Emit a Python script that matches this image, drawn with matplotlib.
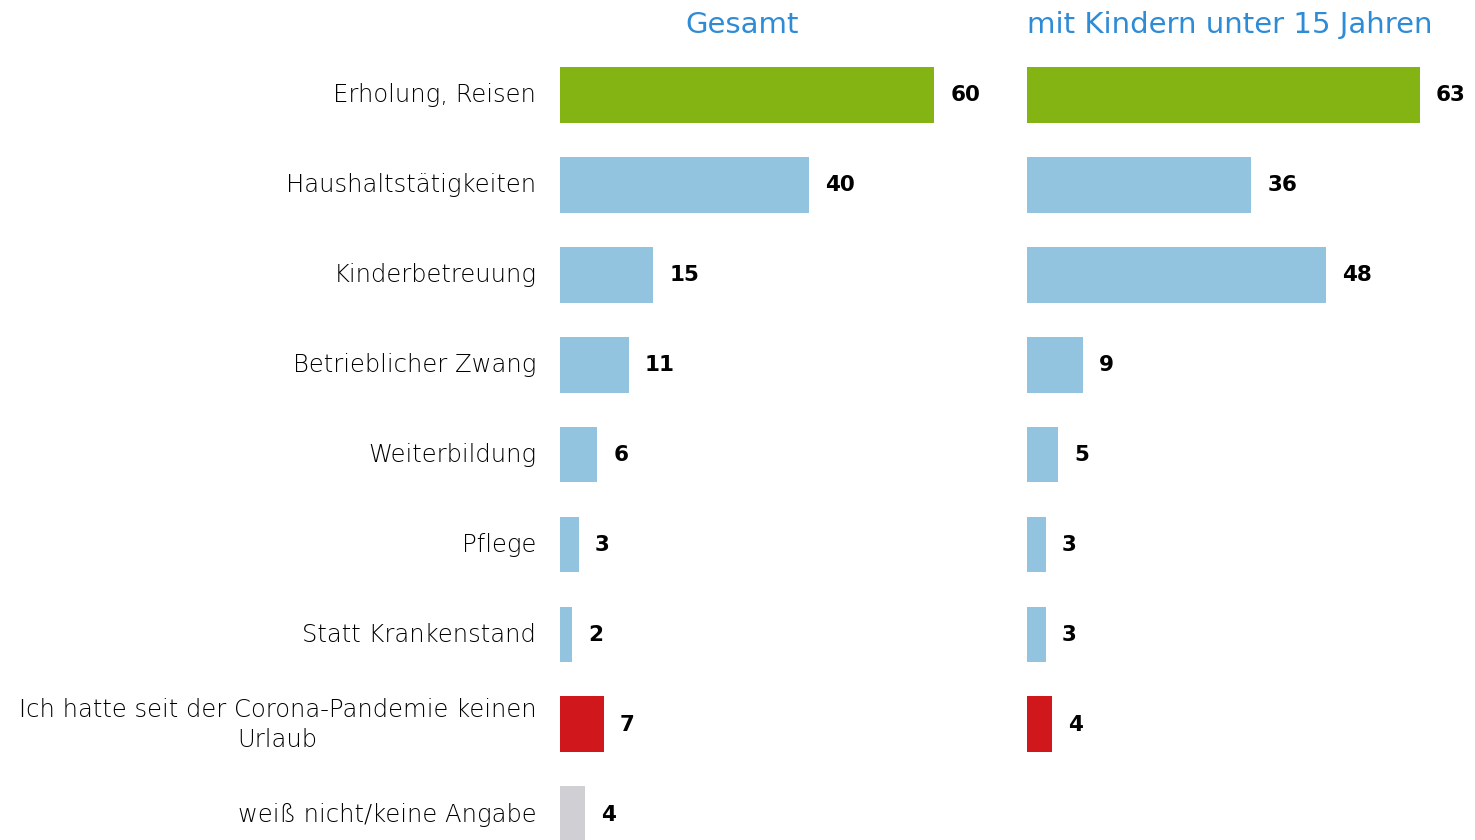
import matplotlib
matplotlib.use("Agg")
import matplotlib.pyplot as plt

categories = [
    "Erholung, Reisen",
    "Haushaltstätigkeiten",
    "Kinderbetreuung",
    "Betrieblicher Zwang",
    "Weiterbildung",
    "Pflege",
    "Statt Krankenstand",
    "Ich hatte seit der Corona-Pandemie keinen\nUrlaub",
    "weiß nicht/keine Angabe",
]
gesamt = [60, 40, 15, 11, 6, 3, 2, 7, 4]
kinder = [63, 36, 48, 9, 5, 3, 3, 4, None]
panel_titles = ["Gesamt", "mit Kindern unter 15 Jahren"]

GREEN = "#84b414"
BLUE = "#92c3df"
RED = "#d0171b"
GREY = "#d0d0d4"
TITLE = "#2e8bd6"
bar_colors = [GREEN, BLUE, BLUE, BLUE, BLUE, BLUE, BLUE, RED, GREY]

FONT = "DejaVu Sans"
W, H = 1475, 840
fig = plt.figure(figsize=(W / 100, H / 100), dpi=100)

xmax = 68
ylim = (8.287, -0.5)
axes = []
for left_px, vals in [(560, gesamt), (1027, kinder)]:
    ax = fig.add_axes([left_px / W, 0, (xmax * 6.233) / W, 790 / H])
    ax.set_xlim(0, xmax)
    ax.set_ylim(*ylim)
    for i, v in enumerate(vals):
        if v is None:
            continue
        ax.barh(i, v, height=0.62, color=bar_colors[i], clip_on=False)
        ax.text(v + 2.6, i + 0.005, str(v), va="center", ha="left", fontsize=15.5,
                fontweight="heavy", family=FONT, color="black", clip_on=False)
    ax.axis("off")
    axes.append(ax)

for i, lab in enumerate(categories):
    axes[0].text(-3.8, i + 0.005, lab, ha="right", va="center", fontsize=17.5,
                 family=FONT, fontweight="light", color="#000000",
                 linespacing=1.3, multialignment="center", clip_on=False)

fig.text(742 / W, 1 - 25 / H, panel_titles[0], ha="center", va="center",
         fontsize=21, family=FONT, color=TITLE)
fig.text(1230 / W, 1 - 25 / H, panel_titles[1], ha="center", va="center",
         fontsize=21, family=FONT, color=TITLE)

fig.savefig("out.png", dpi=100, facecolor="white")
